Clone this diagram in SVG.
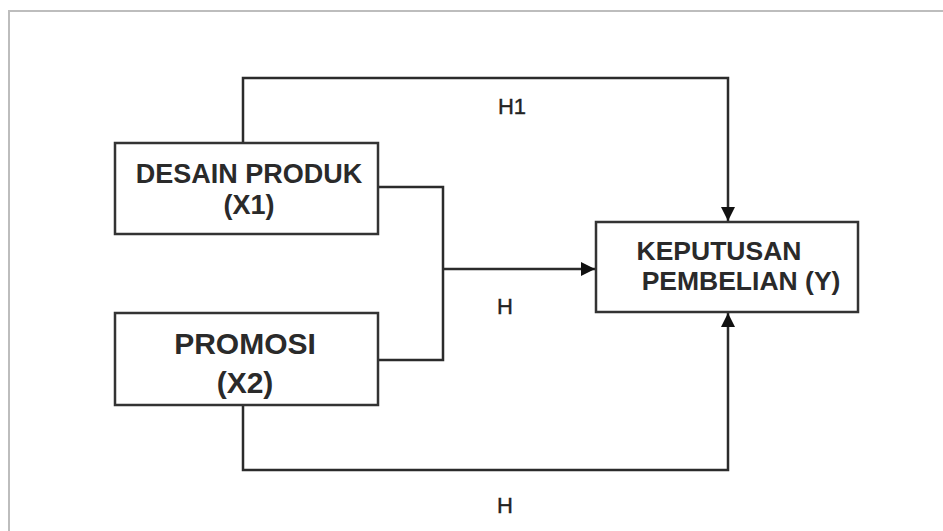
<svg xmlns="http://www.w3.org/2000/svg" width="943" height="531" viewBox="0 0 943 531">
<style>
.box{fill:#fff;stroke:#333;stroke-width:2.5}
.ln{fill:none;stroke:#2b2b2b;stroke-width:2.5}
.bt{font-family:"Liberation Sans",Arial,sans-serif;font-weight:bold;fill:#2a2a2a;text-anchor:middle}
.lb{font-family:"Liberation Sans",Arial,sans-serif;font-size:22px;fill:#222;stroke:#222;stroke-width:0.4;text-anchor:middle}
</style>
<defs>
<marker id="ah" viewBox="0 0 14 14" refX="14" refY="7" markerWidth="14" markerHeight="14" markerUnits="userSpaceOnUse" orient="auto">
<path d="M0,0 L14,7 L0,14 Z" fill="#111"/>
</marker>
</defs>
<rect x="0" y="0" width="943" height="531" fill="#fff"/>
<path d="M9,531 V11 H943" fill="none" stroke="#bdbdbd" stroke-width="2"/>
<g id="connectors">
<path class="ln" d="M243,143 V78 H728 V221" marker-end="url(#ah)"/>
<path class="ln" d="M378,187 H443 V360 H378"/>
<path class="ln" d="M443,269 H595" marker-end="url(#ah)"/>
<path class="ln" d="M243,405 V470 H728 V313" marker-end="url(#ah)"/>
<text class="lb" x="512" y="114">H1</text>
<text class="lb" x="505" y="314">H</text>
<text class="lb" x="505" y="513">H</text>
</g>
<g id="x1">
<rect class="box" x="115" y="143" width="263" height="91"/>
<text class="bt" x="249" y="183" font-size="27">DESAIN PRODUK</text>
<text class="bt" x="249" y="214" font-size="27">(X1)</text>
</g>
<g id="x2">
<rect class="box" x="115" y="313" width="263" height="92"/>
<text class="bt" x="245" y="354" font-size="30">PROMOSI</text>
<text class="bt" x="245" y="393" font-size="30">(X2)</text>
</g>
<g id="y">
<rect class="box" x="596" y="222" width="262" height="90"/>
<text class="bt" x="719" y="260" font-size="26.5">KEPUTUSAN</text>
<text class="bt" x="741" y="290" font-size="26.5">PEMBELIAN (Y)</text>
</g>
</svg>
